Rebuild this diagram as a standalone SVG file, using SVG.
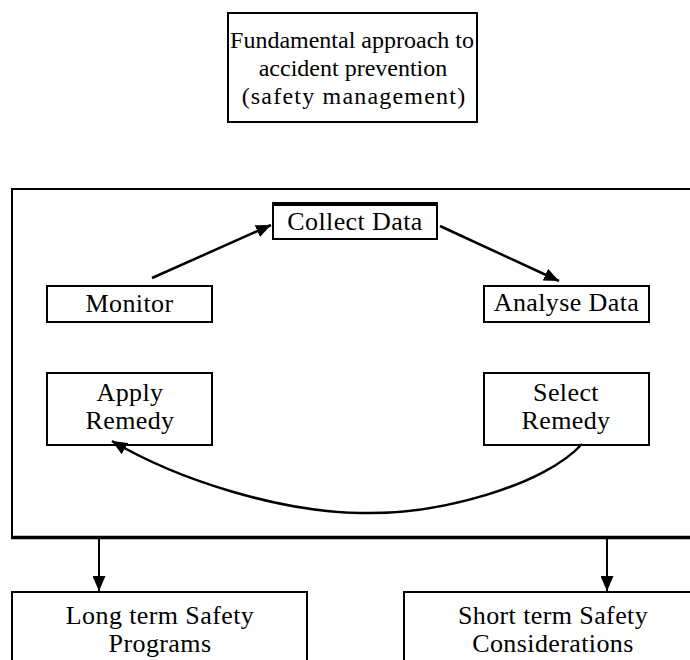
<svg xmlns="http://www.w3.org/2000/svg" width="690" height="660" viewBox="0 0 690 660">
<defs>
<style>
.box{fill:#fff;stroke:#000;stroke-width:2}
.t{font-family:"Liberation Serif","Times New Roman",serif;font-size:26px;fill:#000;text-anchor:middle;letter-spacing:0.4px}
.tt{font-family:"Liberation Serif","Times New Roman",serif;font-size:24px;fill:#000;text-anchor:middle}
.ln{fill:none;stroke:#000;stroke-width:2.5}
.ln2{fill:none;stroke:#000;stroke-width:2}
</style>
<marker id="ah" markerUnits="userSpaceOnUse" markerWidth="16" markerHeight="13" refX="15" refY="6.5" orient="auto">
<path d="M0,0 L15,6.5 L0,13 z" fill="#000"/>
</marker>
</defs>
<rect width="690" height="660" fill="#fff"/>

<g id="top">
<rect class="box" x="228" y="13" width="249" height="109"/>
<text class="tt" x="352" y="48">Fundamental approach to</text>
<text class="tt" x="353" y="76">accident prevention</text>
<text class="tt" x="354" y="104" letter-spacing="1.2">(safety management)</text>
</g>

<g id="frame">
<path d="M692,189 L12,189 L12,537" fill="none" stroke="#000" stroke-width="2"/>
<line x1="11" y1="537.5" x2="692" y2="537.5" stroke="#000" stroke-width="3.5"/>
</g>

<g id="collect">
<rect class="box" x="273" y="204" width="164" height="35"/>
<line x1="272" y1="204" x2="438" y2="204" stroke="#000" stroke-width="4"/>
<text class="t" x="355" y="230">Collect Data</text>
</g>

<g id="monitor">
<rect class="box" x="47" y="286" width="165" height="36"/>
<text class="t" x="129.5" y="312">Monitor</text>
</g>

<g id="analyse">
<rect class="box" x="484" y="286" width="165" height="36"/>
<text class="t" x="566.5" y="311">Analyse Data</text>
</g>

<g id="apply">
<rect class="box" x="47" y="373" width="165" height="72"/>
<text class="t" x="130" y="401">Apply</text>
<text class="t" x="130" y="429">Remedy</text>
</g>

<g id="select">
<rect class="box" x="484" y="373" width="165" height="72"/>
<text class="t" x="566" y="401">Select</text>
<text class="t" x="566" y="429">Remedy</text>
</g>

<g id="longterm">
<rect class="box" x="12" y="592" width="295" height="80"/>
<text class="t" x="160" y="624">Long term Safety</text>
<text class="t" x="160" y="652">Programs</text>
</g>

<g id="shortterm">
<rect class="box" x="404" y="592" width="300" height="80"/>
<text class="t" x="553" y="624">Short term Safety</text>
<text class="t" x="553" y="652">Considerations</text>
</g>

<g id="connectors">
<line class="ln" x1="152" y1="278" x2="271" y2="225" marker-end="url(#ah)"/>
<line class="ln" x1="440" y1="226" x2="559" y2="281" marker-end="url(#ah)"/>
<path class="ln" d="M582,444 C545,485 440,515 361,513 C280,512 178,480 112,441" marker-end="url(#ah)"/>
<line class="ln2" x1="99" y1="539" x2="99" y2="591" marker-end="url(#ah)"/>
<line class="ln2" x1="607" y1="539" x2="607" y2="591" marker-end="url(#ah)"/>
</g>
</svg>
